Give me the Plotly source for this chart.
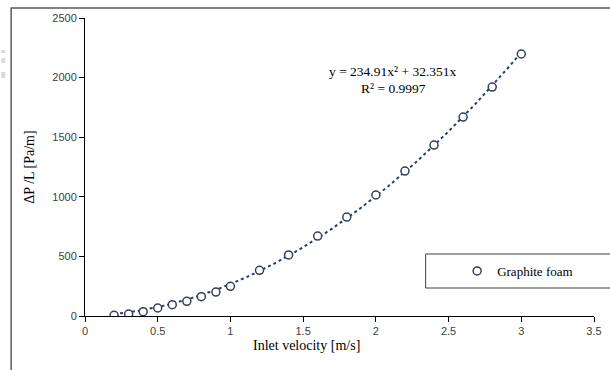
import plotly.graph_objects as go
import numpy as np

velocity = [0.2, 0.3, 0.4, 0.5, 0.6, 0.7, 0.8, 0.9, 1.0, 1.2, 1.4, 1.6, 1.8, 2.0, 2.2, 2.4, 2.6, 2.8, 3.0]
pressure_drop = [6, 16, 36, 67, 95, 123, 162, 201, 249, 383, 512, 671, 830, 1015, 1216, 1434, 1669, 1921, 2198]
coef_a = 234.91
coef_b = 32.351
r_squared = 0.9997
x_ticks = [0, 0.5, 1, 1.5, 2, 2.5, 3, 3.5]
y_ticks = [0, 500, 1000, 1500, 2000, 2500]

W, H = 610, 370
ml, mr, mt, mb = 85, 8, 18, 54
pw, ph = W - ml - mr, H - mt - mb

def px_x(p):
    return (p - ml) / pw

def px_y(p):
    return (H - mb - p) / ph

xfit = np.linspace(min(velocity), max(velocity), 200)
yfit = coef_a * xfit**2 + coef_b * xfit

fig = go.Figure()
fig.add_trace(go.Scatter(x=xfit, y=yfit, mode="lines", showlegend=False,
                         line=dict(color="#23407e", width=2, dash="dot"), hoverinfo="skip"))
fig.add_trace(go.Scatter(x=velocity, y=pressure_drop, mode="markers", name="Graphite foam",
                         marker=dict(symbol="circle", size=8, color="white",
                                     line=dict(color="#34405a", width=1.5))))

serif = "Liberation Serif, Times New Roman, serif"
sans = "Liberation Sans"

fig.update_layout(
    width=W, height=H,
    margin=dict(l=ml, r=mr, t=mt, b=mb),
    paper_bgcolor="white", plot_bgcolor="white",
    showlegend=True,
    font=dict(family=serif),
    legend=dict(x=px_x(463), y=px_y(271), xanchor="left", yanchor="middle",
                bgcolor="rgba(0,0,0,0)", borderwidth=0,
                font=dict(family=serif, size=13, color="#000000"),
                itemwidth=30, tracegroupgap=0),
    xaxis=dict(range=[0, 3.5], tickvals=x_ticks, ticktext=[f"{v:g}" for v in x_ticks],
               showgrid=False, zeroline=False, showline=True, linecolor="#000000", linewidth=1,
               ticks="outside", ticklen=5, tickcolor="#000000",
               tickfont=dict(family=sans, size=11, color="#404040")),
    yaxis=dict(range=[0, 2500], tickvals=y_ticks, showgrid=False, zeroline=False,
               showline=True, linecolor="#000000", linewidth=1,
               ticks="outside", ticklen=5, tickcolor="#000000",
               tickfont=dict(family=sans, size=11, color="#404040"),
               title=dict(text="ΔP /L [Pa/m]", font=dict(family=serif, size=14, color="#000000"),
                          standoff=14)),
    annotations=[
        dict(x=px_x(310), y=px_y(355), xref="paper", yref="paper", showarrow=False,
             text="Inlet velocity [m/s]", font=dict(family=serif, size=14, color="#000000")),
        dict(x=px_x(398), y=px_y(62), xref="paper", yref="paper", showarrow=False,
             text=f"y = {coef_a}x² + {coef_b}x", font=dict(family=serif, size=13.5, color="#000000")),
        dict(x=px_x(398), y=px_y(79), xref="paper", yref="paper", showarrow=False,
             text=f"R² = {r_squared}", font=dict(family=serif, size=13.5, color="#000000")),
    ],
    shapes=[
        dict(type="rect", xref="paper", yref="paper", x0=px_x(10), x1=px_x(640),
             y0=px_y(400), y1=px_y(8), line=dict(color="#5a5a5a", width=1.5), layer="below"),
        dict(type="rect", xref="paper", yref="paper", x0=px_x(431), x1=px_x(640),
             y0=px_y(288), y1=px_y(254), line=dict(color="#404040", width=1), layer="below"),
        dict(type="rect", xref="paper", yref="paper", x0=px_x(0), x1=px_x(4),
             y0=px_y(53), y1=px_y(50), line=dict(width=0), fillcolor="#d9d9d9"),
        dict(type="rect", xref="paper", yref="paper", x0=px_x(0), x1=px_x(4),
             y0=px_y(63), y1=px_y(58), line=dict(width=0), fillcolor="#d9d9d9"),
        dict(type="rect", xref="paper", yref="paper", x0=px_x(0), x1=px_x(4),
             y0=px_y(78), y1=px_y(72), line=dict(width=0), fillcolor="#d9d9d9"),
    ],
)

fig.write_html("out.html")
